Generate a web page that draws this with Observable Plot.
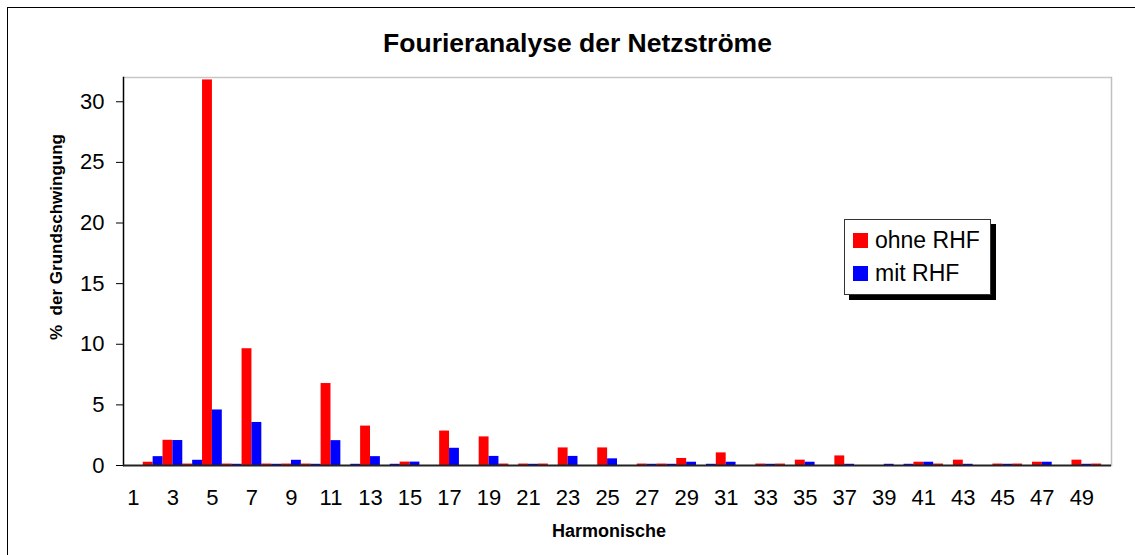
<!DOCTYPE html>
<html><head><meta charset="utf-8">
<script src="https://cdn.jsdelivr.net/npm/d3@7"></script>
<script src="https://cdn.jsdelivr.net/npm/@observablehq/plot@0.6"></script>
<style>
body{margin:0;background:#fff;font-family:"Liberation Sans",Arial,sans-serif;}
#wrap{position:relative;width:1135px;height:555px;overflow:hidden;}
#border{position:absolute;left:7px;top:7px;width:1140px;height:560px;border-left:1.5px solid #000;border-top:1.5px solid #000;box-sizing:border-box;}
#chart{position:absolute;left:0;top:0;}
#title{position:absolute;left:10px;width:1135px;top:27px;line-height:32px;text-align:center;font-weight:bold;font-size:26.5px;}
#ytitle{position:absolute;left:57px;top:237px;transform:translate(-50%,-50%) rotate(-90deg);font-weight:bold;font-size:17px;white-space:pre;}
#xtitle{position:absolute;left:609px;top:521px;transform:translateX(-50%);font-weight:bold;font-size:18px;}
#legend{position:absolute;left:844px;top:219px;width:147px;height:76px;border:1px solid #333;background:#fff;box-shadow:5px 5px 0 #000;box-sizing:border-box;}
.li{position:absolute;left:8px;font-size:23px;line-height:26px;white-space:nowrap;}
.sw{display:inline-block;width:15px;height:15px;margin-right:7px;vertical-align:0px;}
</style></head>
<body>
<div id="wrap">
<div id="border"></div>
<div id="chart"></div>
<div id="title"></div>
<div id="ytitle"></div>
<div id="xtitle"></div>
<div id="legend"></div>
</div>
<script>
const titleText = "Fourieranalyse der Netzströme";
const yTitle = "%  der Grundschwingung";
const xTitle = "Harmonische";
const seriesNames = ["ohne RHF", "mit RHF"];
const seriesColors = ["#ff0000", "#0000ff"];
const harmonics = d3.range(1, 51);
const ohneRHF = [0, 0.27, 2.08, 0.12, 31.8, 0.12, 9.63, 0.12, 0.12, 0.12,
                 6.76, 0, 3.25, 0, 0.28, 0, 2.84, 0, 2.36, 0.12,
                 0.12, 0.12, 1.45, 0, 1.45, 0, 0.12, 0.12, 0.58, 0,
                 1.04, 0, 0.12, 0.12, 0.44, 0, 0.79, 0, 0, 0,
                 0.27, 0.12, 0.44, 0, 0.12, 0.12, 0.27, 0, 0.44, 0.12];
const mitRHF  = [0, 0.73, 2.06, 0.43, 4.58, 0.1, 3.55, 0.1, 0.43, 0.1,
                 2.05, 0.1, 0.73, 0.1, 0.28, 0, 1.42, 0, 0.75, 0,
                 0.1, 0, 0.75, 0, 0.55, 0, 0.1, 0.1, 0.27, 0.1,
                 0.27, 0, 0.1, 0, 0.27, 0, 0.1, 0, 0.1, 0.1,
                 0.27, 0, 0.1, 0, 0.1, 0, 0.27, 0, 0.1, 0];
const yTicks = [0, 5, 10, 15, 20, 25, 30];
const xTickLabels = harmonics.filter(h => h % 2 === 1);

const data = harmonics.map((h, i) => ({h, ohne: ohneRHF[i], mit: mitRHF[i]}));

const W = 1135, H = 555, ml = 123, mr = 24, mt = 77, mb = 90;
const half = (W - ml - mr) / harmonics.length / 2;

const chart = Plot.plot({
  width: W, height: H,
  marginLeft: ml, marginRight: mr, marginTop: mt, marginBottom: mb,
  style: {fontFamily: "'Liberation Sans', Arial, sans-serif", color: "#000", background: "transparent"},
  x: {type: "band", domain: harmonics, padding: 0, axis: null},
  y: {domain: [0, 32], axis: null},
  marks: [
    Plot.ruleY([32], {stroke: "#c8c8c8", strokeWidth: 1.5}),
    Plot.frame({anchor: "right", stroke: "#c0c0c0", strokeWidth: 1.5}),
    Plot.barY(data, {x: "h", y: "ohne", fill: seriesColors[0], insetRight: half, insetLeft: 0}),
    Plot.barY(data, {x: "h", y: "mit", fill: seriesColors[1], insetLeft: half, insetRight: 0}),
    Plot.frame({anchor: "left", stroke: "#000", strokeWidth: 1.5}),
    Plot.ruleY([0], {stroke: "#222", strokeWidth: 2}),
    Plot.axisY({ticks: yTicks, tickSize: 7, tickPadding: 12, fontSize: "22px", stroke: "#000", label: null}),
    Plot.axisX({ticks: xTickLabels, tickSize: 0, tickPadding: 24, fontSize: "22px", label: null})
  ]
});
document.getElementById("chart").appendChild(chart);
document.getElementById("title").textContent = titleText;
document.getElementById("ytitle").textContent = yTitle;
document.getElementById("xtitle").textContent = xTitle;
const lg = document.getElementById("legend");
seriesNames.forEach((n, i) => {
  const d = document.createElement("div");
  d.className = "li";
  d.style.top = (i === 0 ? 7 : 40) + "px";
  d.innerHTML = `<span class="sw" style="background:${seriesColors[i]}"></span>${n}`;
  lg.appendChild(d);
});
</script>
</body></html>
